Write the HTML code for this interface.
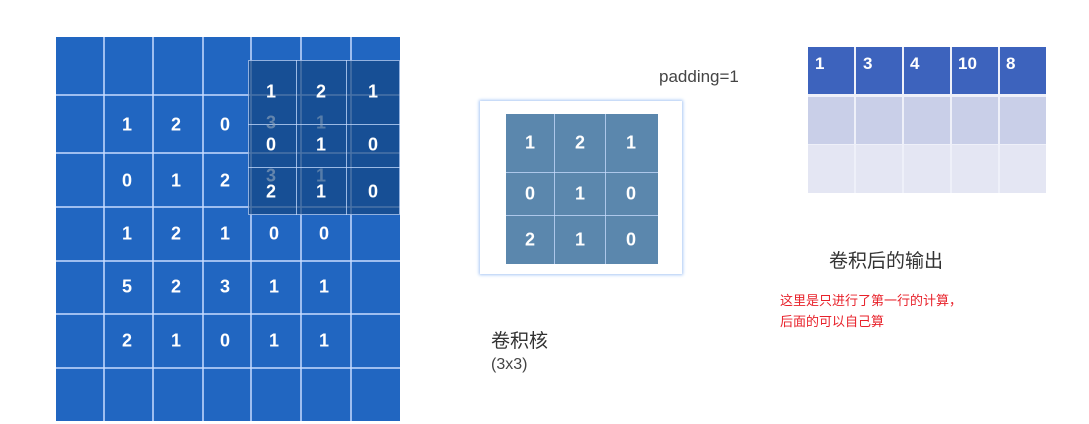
<!DOCTYPE html>
<html><head><meta charset="utf-8"><style>
body{margin:0;width:1089px;height:424px;background:#fff;position:relative;overflow:hidden;font-family:"Liberation Sans","Noto Sans CJK SC",sans-serif}
.a{position:absolute;box-sizing:border-box}
.n{position:absolute;color:#fff;font-weight:bold;font-size:18px;transform:translate(-50%,-50%)}
.l{position:absolute;background:rgba(200,220,255,.75)}
</style></head><body>
<div class="a" style="left:56px;top:37px;width:344px;height:384px;background:#2166c1"></div>
<!-- grid lines -->
<div class="l" style="left:103px;top:37px;width:2px;height:384px"></div>
<div class="l" style="left:152px;top:37px;width:2px;height:384px"></div>
<div class="l" style="left:202px;top:37px;width:2px;height:384px"></div>
<div class="l" style="left:250px;top:37px;width:2px;height:384px"></div>
<div class="l" style="left:300px;top:37px;width:2px;height:384px"></div>
<div class="l" style="left:350px;top:37px;width:2px;height:384px"></div>
<div class="l" style="left:56px;top:94px;width:344px;height:2px"></div>
<div class="l" style="left:56px;top:152px;width:344px;height:2px"></div>
<div class="l" style="left:56px;top:206px;width:344px;height:2px"></div>
<div class="l" style="left:56px;top:260px;width:344px;height:2px"></div>
<div class="l" style="left:56px;top:313px;width:344px;height:2px"></div>
<div class="l" style="left:56px;top:367px;width:344px;height:2px"></div>
<!-- kernel overlay -->
<div class="a" style="left:248px;top:60px;width:152px;height:155px;background:rgba(20,70,130,.7);border:1px solid rgba(200,220,255,.7)"></div>
<div class="l" style="left:296px;top:60px;width:1px;height:155px"></div>
<div class="l" style="left:346px;top:60px;width:1px;height:155px"></div>
<div class="l" style="left:248px;top:124px;width:152px;height:1px"></div>
<div class="l" style="left:248px;top:167px;width:152px;height:1px"></div>
<div class="n" style="left:271px;top:92px">1</div><div class="n" style="left:321px;top:92px">2</div><div class="n" style="left:373px;top:92px">1</div>
<div class="n" style="left:271px;top:145px">0</div><div class="n" style="left:321px;top:145px">1</div><div class="n" style="left:373px;top:145px">0</div>
<div class="n" style="left:271px;top:192px">2</div><div class="n" style="left:321px;top:192px">1</div><div class="n" style="left:373px;top:192px">0</div>
<div class="n" style="left:271px;top:123px;color:rgba(150,170,190,.6)">3</div><div class="n" style="left:321px;top:123px;color:rgba(150,170,190,.5)">1</div>
<div class="n" style="left:271px;top:176px;color:rgba(150,170,190,.6)">3</div><div class="n" style="left:321px;top:176px;color:rgba(150,170,190,.5)">1</div>
<!-- data -->
<div class="n" style="left:127px;top:125px">1</div><div class="n" style="left:176px;top:125px">2</div><div class="n" style="left:225px;top:125px">0</div>
<div class="n" style="left:127px;top:181px">0</div><div class="n" style="left:176px;top:181px">1</div><div class="n" style="left:225px;top:181px">2</div>
<div class="n" style="left:127px;top:234px">1</div><div class="n" style="left:176px;top:234px">2</div><div class="n" style="left:225px;top:234px">1</div><div class="n" style="left:274px;top:234px">0</div><div class="n" style="left:324px;top:234px">0</div>
<div class="n" style="left:127px;top:287px">5</div><div class="n" style="left:176px;top:287px">2</div><div class="n" style="left:225px;top:287px">3</div><div class="n" style="left:274px;top:287px">1</div><div class="n" style="left:324px;top:287px">1</div>
<div class="n" style="left:127px;top:341px">2</div><div class="n" style="left:176px;top:341px">1</div><div class="n" style="left:225px;top:341px">0</div><div class="n" style="left:274px;top:341px">1</div><div class="n" style="left:324px;top:341px">1</div>
<!-- kernel box -->
<div class="a" style="left:480px;top:101px;width:202px;height:173px;background:#fff;box-shadow:0 0 3px 1px #a9c8f5"></div>
<div class="a" style="left:506px;top:114px;width:152px;height:150px;background:#5b87ad"></div>
<div class="l" style="left:554px;top:114px;width:1px;height:150px"></div>
<div class="l" style="left:605px;top:114px;width:1px;height:150px"></div>
<div class="l" style="left:506px;top:172px;width:152px;height:1px"></div>
<div class="l" style="left:506px;top:215px;width:152px;height:1px"></div>
<div class="n" style="left:530px;top:143px">1</div><div class="n" style="left:580px;top:143px">2</div><div class="n" style="left:631px;top:143px">1</div>
<div class="n" style="left:530px;top:194px">0</div><div class="n" style="left:580px;top:194px">1</div><div class="n" style="left:631px;top:194px">0</div>
<div class="n" style="left:530px;top:240px">2</div><div class="n" style="left:580px;top:240px">1</div><div class="n" style="left:631px;top:240px">0</div>
<div class="a" style="left:491px;top:326px;font-size:19px;color:#333">卷积核</div>
<div class="a" style="left:491px;top:356px;font-size:16px;color:#444">(3x3)</div>
<div class="a" style="left:659px;top:67px;font-size:17px;color:#444">padding=1</div>
<!-- output -->
<div class="a" style="left:808px;top:47px;width:238px;height:47px;background:#3d63bd"></div>
<div class="a" style="left:808px;top:97px;width:238px;height:47px;background:#c9cfe8"></div>
<div class="a" style="left:808px;top:144px;width:238px;height:49px;background:#e4e6f3"></div>
<div class="a" style="left:854px;top:47px;width:2px;height:146px;background:#eef0f9"></div>
<div class="a" style="left:902px;top:47px;width:2px;height:146px;background:#eef0f9"></div>
<div class="a" style="left:950px;top:47px;width:2px;height:146px;background:#eef0f9"></div>
<div class="a" style="left:998px;top:47px;width:2px;height:146px;background:#eef0f9"></div>
<div class="a" style="left:808px;top:94px;width:238px;height:3px;background:#eef0f9"></div>
<div class="a" style="left:808px;top:144px;width:238px;height:1px;background:#eef0f9"></div>
<div class="a" style="left:815px;top:54px;color:#fff;font-weight:bold;font-size:17px">1</div>
<div class="a" style="left:863px;top:54px;color:#fff;font-weight:bold;font-size:17px">3</div>
<div class="a" style="left:910px;top:54px;color:#fff;font-weight:bold;font-size:17px">4</div>
<div class="a" style="left:958px;top:54px;color:#fff;font-weight:bold;font-size:17px">10</div>
<div class="a" style="left:1006px;top:54px;color:#fff;font-weight:bold;font-size:17px">8</div>
<div class="a" style="left:829px;top:246px;font-size:19px;color:#333">卷积后的输出</div>
<div class="a" style="left:780px;top:290px;font-size:13px;color:#e8212a;line-height:21px">这里是只进行了第一行的计算，<br>后面的可以自己算</div>
</body></html>
